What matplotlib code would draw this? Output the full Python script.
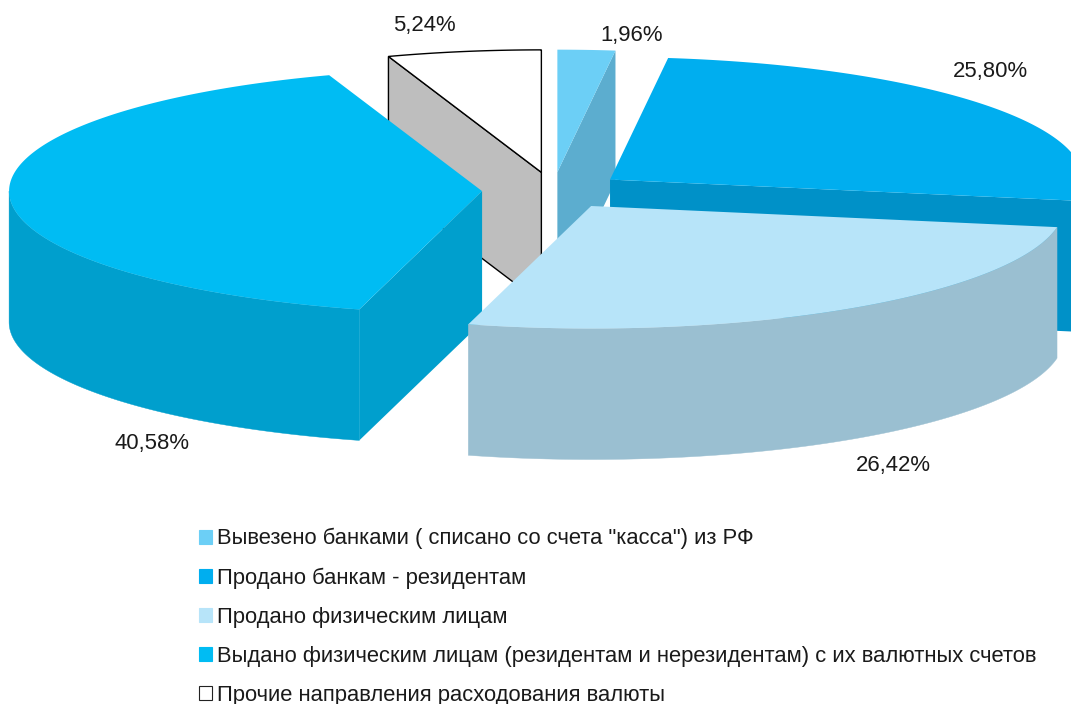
import matplotlib
matplotlib.use('Agg')
import matplotlib.pyplot as plt
from matplotlib.patches import Patch
import numpy as np

plt.rcParams['font.family'] = ['Liberation Sans', 'DejaVu Sans']

# Data
categories = [
    'Вывезено банками ( списано со счета "касса") из РФ',
    'Продано банкам - резидентам',
    'Продано физическим лицам',
    'Выдано физическим лицам (резидентам и нерезидентам) с их валютных счетов',
    'Прочие направления расходования валюты',
]
shares = [1.96, 25.80, 26.42, 40.58, 5.24]

# Styles
top_colors = ['#6CCFF6', '#00AEEF', '#B7E4F9', '#00BCF3', '#FFFFFF']
side_colors = ['#5CADCF', '#0091C8', '#9ABFD1', '#009FCD', '#BEBEBE']
edge_colors = ['none', 'none', 'none', 'none', 'black']
label_xy = [(632, 36), (990, 72), (893, 465), (152, 444), (424, 25)]

# Pie geometry in pixels
cx, cy = 553, 190.5
rx, ry = 473, 122.5
depth = 131
explode = 0.15
draw_order = [4, 0, 1, 3, 2]


def rim(a, apex):
    # a is in radians, clockwise from 12 o'clock
    return np.column_stack([apex[0] + rx * np.sin(a), apex[1] - ry * np.cos(a)])


fig = plt.figure(figsize=(10.71, 7.04), dpi=100)
ax = fig.add_axes([0, 0, 1, 1])
ax.set_xlim(0, 1071)
ax.set_ylim(704, 0)
ax.axis('off')

edges = np.radians(np.cumsum([0] + shares) / sum(shares) * 360)

for i in draw_order:
    a0, a1 = edges[i], edges[i + 1]
    mid = (a0 + a1) / 2
    apex = (cx + explode * rx * np.sin(mid), cy - explode * ry * np.cos(mid))
    down = np.array([0, depth])
    lw = 1.0 if edge_colors[i] != 'none' else 0

    # radial faces, only those turned to the viewer
    for a, normal in ((a0, a0 - np.pi / 2), (a1, a1 + np.pi / 2)):
        if np.cos(normal) < 0:
            p = rim(np.array([a]), apex)[0]
            quad = np.array([apex, p, p + down, np.array(apex) + down])
            ax.fill(quad[:, 0], quad[:, 1], facecolor=side_colors[i],
                    edgecolor=edge_colors[i], linewidth=lw, zorder=1)

    # outer wall, front half only
    w0, w1 = max(a0, np.pi / 2), min(a1, 3 * np.pi / 2)
    if w1 > w0:
        arc = rim(np.linspace(w0, w1, 120), apex)
        wall = np.vstack([arc, arc[::-1] + down])
        ax.fill(wall[:, 0], wall[:, 1], facecolor=side_colors[i],
                edgecolor=side_colors[i], linewidth=0.3)

    arc = rim(np.linspace(a0, a1, 200), apex)
    top = np.vstack([[apex], arc])
    ax.fill(top[:, 0], top[:, 1], facecolor=top_colors[i],
            edgecolor=edge_colors[i], linewidth=lw)

for v, (x, y) in zip(shares, label_xy):
    ax.text(x, y, f'{v:.2f}'.replace('.', ',') + '%', ha='center', va='center',
            fontsize=15.9, color='#1a1a1a')

handles = [Patch(facecolor=t, edgecolor='#222222' if e != 'none' else t, linewidth=0.8)
           for t, e in zip(top_colors, edge_colors)]
ax.legend(handles, categories, loc='upper left', bbox_to_anchor=(199 / 1071, 1 - 528 / 704),
          borderaxespad=0, borderpad=0, frameon=False, fontsize=15.88, labelcolor='#1a1a1a',
          handlelength=0.6, handleheight=0.6, handletextpad=0.22, labelspacing=0.82)

fig.savefig('out.png', dpi=100)
